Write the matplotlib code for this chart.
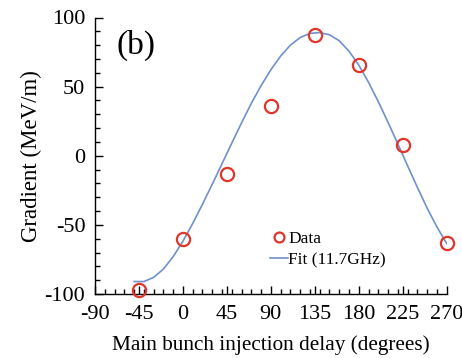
import matplotlib
matplotlib.use("Agg")
import matplotlib.pyplot as plt
from matplotlib.ticker import MultipleLocator

# Data
data_delay = [-45, 0, 45, 90, 135, 180, 225, 270]
data_gradient = [-97, -60.5, -13.5, 36, 87.5, 66, 8, -63]

fit_delay = [-50, -40, -30, -20, -10, 0, 10, 20, 30, 40, 50, 60, 70, 80, 90,
             100, 110, 120, 130, 140, 150, 160, 170, 180, 190, 200, 210, 220,
             230, 240, 250, 260, 270]
fit_gradient = [-91.0, -91.0, -88.0, -82.0, -73.0, -61.8, -49.0, -35.1, -20.6,
                -5.8, 9.1, 23.8, 37.9, 50.7, 62.2, 72.1, 80.0, 85.5, 88.5,
                89.1, 87.5, 83.2, 75.6, 65.6, 53.1, 39.1, 24.1, 8.5, -7.3,
                -22.9, -37.9, -51.5, -63.5]

x_ticks = [-90, -45, 0, 45, 90, 135, 180, 225, 270]
y_ticks = [-100, -50, 0, 50, 100]

plt.rcParams['font.family'] = ['Liberation Serif', 'DejaVu Serif']
plt.rcParams['axes.unicode_minus'] = False

fig = plt.figure(figsize=(4.62, 3.58), dpi=100)
ax = fig.add_axes([95/462, 1-294/358, (446.7-95)/462, (294-17.5)/358])

ax.plot(fit_delay, fit_gradient, color='#7090cc', lw=1.2, label='Fit (11.7GHz)', zorder=2)
ax.plot(data_delay, data_gradient, linestyle='none', marker='o', markersize=9.5,
        markerfacecolor='none', markeredgecolor='#e0352b', markeredgewidth=1.6,
        label='Data', zorder=3, clip_on=False)

ax.set_xlim(-90, 270)
ax.set_ylim(-100, 100)
ax.set_xticks(x_ticks)
ax.set_yticks(y_ticks)
ax.xaxis.set_minor_locator(MultipleLocator(10))
ax.yaxis.set_minor_locator(MultipleLocator(10))

for s in ['top', 'right']:
    ax.spines[s].set_visible(False)
for s in ['left', 'bottom']:
    ax.spines[s].set_linewidth(1.0)

ax.tick_params(axis='both', which='major', direction='in', length=5.5, width=1.0,
               labelsize=16)
ax.tick_params(axis='x', which='major', pad=8)
ax.tick_params(axis='y', which='major', pad=7)
ax.tick_params(axis='both', which='minor', direction='in', length=3.5, width=1.0)

ax.set_xlabel('Main bunch injection delay (degrees)', fontsize=15.3, labelpad=8)
ax.set_ylabel('Gradient (MeV/m)', fontsize=16.5, labelpad=2)

ax.text(0.06, 0.955, '(b)', transform=ax.transAxes, fontsize=24, va='top', ha='left')

handles, labels = ax.get_legend_handles_labels()
order = [1, 0]
leg = ax.legend([handles[i] for i in order], [labels[i] for i in order],
                loc='upper left', bbox_to_anchor=(0.497, 0.228), frameon=False,
                fontsize=12.4, borderpad=0, borderaxespad=0, handlelength=1.05,
                handletextpad=0.02, labelspacing=0.3, markerscale=0.75)

fig.savefig('out.png', dpi=100)
